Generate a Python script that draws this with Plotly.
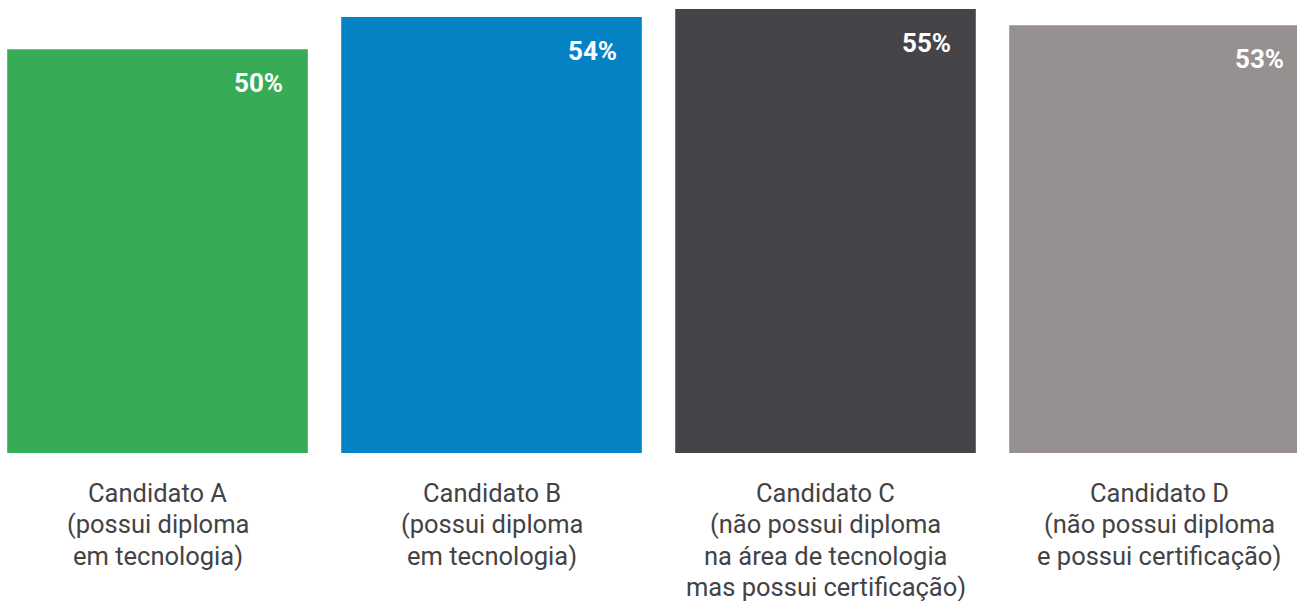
import plotly.graph_objects as go

categories = [
    "Candidato A<br>(possui diploma<br>em tecnologia)",
    "Candidato B<br>(possui diploma<br>em tecnologia)",
    "Candidato C<br>(não possui diploma<br>na área de tecnologia<br>mas possui certificação)",
    "Candidato D<br>(não possui diploma<br>e possui certificação)",
]
values = [50, 54, 55, 53]
value_labels = ["50%", "54%", "55%", "53%"]
colors = ["#38AB57", "#0582C4", "#464448", "#979091"]

xs = list(range(len(values)))
bar_width = 0.9

fig = go.Figure(
    go.Bar(
        x=xs,
        y=values,
        width=bar_width,
        marker=dict(color=colors, line=dict(width=0)),
        hoverinfo="skip",
    )
)

# value labels in the top-right corner of each bar
for x, v, lab in zip(xs, values, value_labels):
    fig.add_annotation(
        x=x, y=v, text=f"<b>{lab}</b>",
        xref="x", yref="y", xanchor="right", yanchor="middle",
        xshift=127, yshift=-34, showarrow=False,
        font=dict(family="Roboto", size=26, color="white"),
    )

# category captions under the bars, one annotation per line
line_gap = 31.3
for x, cat in zip(xs, categories):
    for k, line in enumerate(cat.split("<br>")):
        fig.add_annotation(
            x=x, y=0, text=line, xref="x", yref="y",
            xanchor="center", yanchor="middle",
            yshift=-(40 + line_gap * k), showarrow=False,
            font=dict(family="Roboto", size=25.5, color="#434345"),
        )

fig.update_layout(
    width=1297, height=601,
    margin=dict(l=0, r=0, t=9, b=148),
    paper_bgcolor="white", plot_bgcolor="white",
    showlegend=False,
    xaxis=dict(range=[-0.4716, 3.4117], visible=False, fixedrange=True),
    yaxis=dict(range=[0, 55], visible=False, fixedrange=True),
)

fig.write_html("out.html")
